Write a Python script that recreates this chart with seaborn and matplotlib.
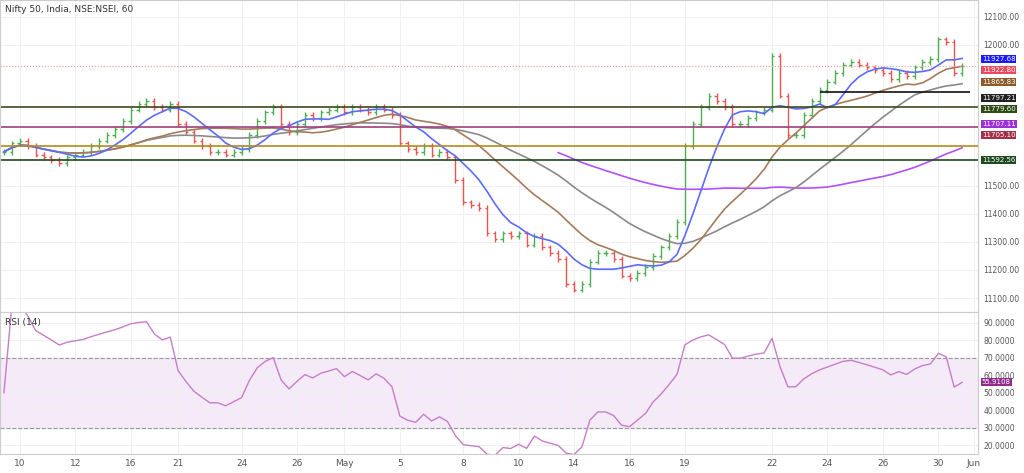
import numpy as np
import pandas as pd
import matplotlib
matplotlib.use("Agg")
import matplotlib.pyplot as plt
import seaborn as sns

closes = [11620,11650,11660,11640,11610,11600,11590,11580,11600,11610,11620,11640,11660,11680,11700,11730,
11770,11790,11800,11780,11770,11790,11720,11690,11660,11640,11620,11620,11610,11620,11630,11680,11730,11760,
11780,11720,11690,11720,11750,11740,11760,11770,11780,11760,11780,11770,11760,11780,11770,11750,11650,11630,
11620,11640,11610,11620,11600,11520,11440,11430,11420,11330,11310,11330,11320,11330,11290,11320,11280,11260,
11240,11150,11130,11150,11230,11260,11260,11240,11180,11170,11190,11210,11250,11280,11320,11370,11640,11720,
11780,11820,11800,11780,11720,11720,11740,11760,11770,11960,11820,11680,11680,11750,11800,11840,11870,11900,
11930,11940,11930,11920,11910,11900,11880,11900,11890,11920,11940,11950,12020,12010,11900,11925]
tick_labels = ["10","12","16","21","24","26","May","5","8","10","14","16","19","22","24","26","30","Jun"]
tick_pos = [2,9,16,22,30,37,43,50,58,65,72,79,86,97,104,111,118,122.5]
price_ticks = [11100,11200,11300,11400,11500,12000,12100]
levels = [11832,11779.60,11707.11,11640,11592.56]
level_colors = ["#111111","#3d4a1e","#9c3f7a","#b58a1c","#1e4a1e"]
right_labels = [("11927.68","#1a1aff",11950),("11922.80","#e84a5f",11910),("11865.83","#8b5a2b",11868),
                ("11797.21","#222222",11812),("11779.60","#2e4b14",11772),("11707.11","#9b30d9",11718),
                ("11705.10","#a3304a",11680),("11592.56","#1e4a1e",11592)]

n = len(closes)
x = np.arange(n)
s = pd.Series(closes, dtype=float)
ma200 = s.rolling(55, min_periods=55).mean()
ma200[:70] = np.nan
df = pd.DataFrame({"x": x, "close": s,
                   "ma20": s.rolling(7, min_periods=1).mean(),
                   "ma50": s.rolling(18, min_periods=1).mean(),
                   "ma100": s.rolling(30, min_periods=1).mean(),
                   "ma200": ma200})
d = s.diff()
up = d.clip(lower=0).ewm(alpha=1/12, adjust=False).mean()
dn = (-d.clip(upper=0)).ewm(alpha=1/12, adjust=False).mean()
df["rsi"] = 100 - 100/(1 + up/dn.replace(0, 1e-9))
df.loc[0, "rsi"] = 50

fig = plt.figure(figsize=(10.24, 4.73), dpi=100)
ax = fig.add_axes([0.0, 0.34, 0.955, 0.66])
ax2 = fig.add_axes([0.0, 0.04, 0.955, 0.30], sharex=ax)
for a in (ax, ax2):
    a.set_facecolor("white")
    for sp in a.spines.values():
        sp.set_color("#cccccc")
    a.grid(color="#f0f0f0", lw=0.8)

opens = [closes[0]] + closes[:-1]
for i in range(n):
    o, c = opens[i], closes[i]
    col = "#4caf50" if c >= o else "#ef5350"
    lo, hi = min(o, c) - 10, max(o, c) + 10
    ax.vlines(i, lo, hi, color=col, lw=1)
    ax.hlines(o, i - 0.3, i, color=col, lw=1)
    ax.hlines(c, i, i + 0.3, color=col, lw=1)

sns.lineplot(data=df, x="x", y="ma200", ax=ax, color="#b050ff", lw=1.2)
sns.lineplot(data=df, x="x", y="ma100", ax=ax, color="#8a8a8a", lw=1.2)
sns.lineplot(data=df, x="x", y="ma50", ax=ax, color="#a57b5c", lw=1.2)
sns.lineplot(data=df, x="x", y="ma20", ax=ax, color="#5b6cff", lw=1.2)
for lv, c in zip(levels[1:], level_colors[1:]):
    ax.axhline(lv, color=c, lw=1.2)
ax.hlines(levels[0], 103, n, color=level_colors[0], lw=1.2)
ax.axhline(closes[-1], color="#ef9a9a", lw=0.8, ls=":")

ax.set_xlim(-0.5, n + 1)
ax.set_ylim(11050, 12160)
ax.yaxis.tick_right()
ax.set_yticks(price_ticks)
ax.set_yticklabels([f"{v:.2f}" for v in price_ticks], fontsize=5.5, color="#555")
ax.tick_params(axis="y", length=0, pad=4)
ax.tick_params(axis="x", labelbottom=False, length=0)
ax.set_xlabel(""); ax.set_ylabel("")
for txt, col, yv in right_labels:
    ax.text(1.004, (yv - 11050) / 1110, txt, transform=ax.transAxes, fontsize=5, color="white",
            va="center", ha="left", bbox=dict(boxstyle="square,pad=0.15", fc=col, ec="none"))
ax.text(0.005, 0.985, "Nifty 50, India, NSE:NSEI, 60", transform=ax.transAxes, fontsize=6.5,
        va="top", color="#333")

ax2.axhspan(30, 70, color="#f3e5f5", alpha=0.8)
ax2.axhline(70, color="#999", lw=0.8, ls="--")
ax2.axhline(30, color="#999", lw=0.8, ls="--")
sns.lineplot(data=df, x="x", y="rsi", ax=ax2, color="#c77dca", lw=1)
ax2.set_ylim(15, 96)
ax2.yaxis.tick_right()
ax2.set_yticks(range(20, 91, 10))
ax2.set_yticklabels([f"{v:.4f}" for v in range(20, 91, 10)], fontsize=5.5, color="#555")
ax2.tick_params(axis="y", length=0, pad=4)
ax2.set_xticks(tick_pos)
ax2.set_xticklabels(tick_labels, fontsize=6.5, color="#555")
ax2.tick_params(axis="x", length=0)
ax2.set_xlabel(""); ax2.set_ylabel("")
r = df["rsi"].iloc[-1]
ax2.text(1.004, (r - 15) / 81, f"{r:.4f}", transform=ax2.transAxes, fontsize=5, color="white",
         va="center", bbox=dict(boxstyle="square,pad=0.15", fc="#8e2d8e", ec="none"))
ax2.text(0.005, 0.96, "RSI (14)", transform=ax2.transAxes, fontsize=6.5, va="top", color="#333")
fig.savefig("out.png", dpi=100, facecolor="white")
